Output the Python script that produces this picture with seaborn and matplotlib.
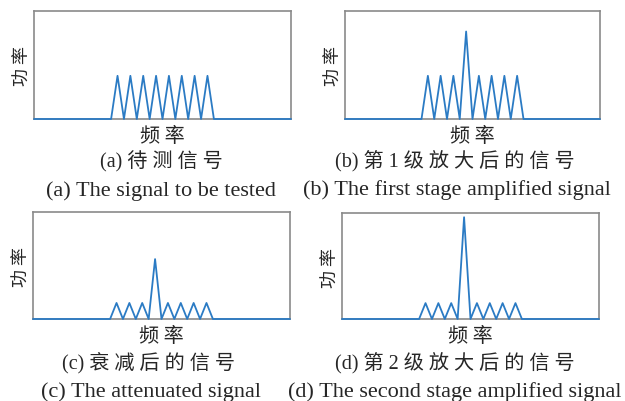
import matplotlib
matplotlib.use("Agg")
import matplotlib.pyplot as plt
import numpy as np
import pandas as pd
import seaborn as sns

sns.set_theme(style="white")
plt.rcParams["font.family"] = ["Liberation Serif", "Noto Sans CJK SC", "DejaVu Sans"]

# frequency positions (troughs at even, peaks at odd)
freq = [0, 12, 13, 14, 15, 16, 17, 18, 19, 20, 21, 22, 23, 24, 25, 26, 27, 28, 40]
power_a = [0, 0, .40, 0, .40, 0, .40, 0, .40, 0, .40, 0, .40, 0, .40, 0, .40, 0, 0]
power_b = [0, 0, .40, 0, .40, 0, .40, 0, .81, 0, .40, 0, .40, 0, .40, 0, .40, 0, 0]
power_c = [0, 0, .15, 0, .15, 0, .15, 0, .56, 0, .15, 0, .15, 0, .15, 0, .15, 0, 0]
power_d = [0, 0, .15, 0, .15, 0, .15, 0, .96, 0, .15, 0, .15, 0, .15, 0, .15, 0, 0]

cn_titles = ["(a) 待 测 信 号", "(b) 第 1 级 放 大 后 的 信 号",
             "(c) 衰 减 后 的 信 号", "(d) 第 2 级 放 大 后 的 信 号"]
en_titles = ["(a) The signal to be tested", "(b) The first stage amplified signal",
             "(c) The attenuated signal", "(d) The second stage amplified signal"]

W, H = 625, 402
fig = plt.figure(figsize=(W / 100, H / 100), dpi=100)

# axes boxes in pixels: left, right, top, bottom
boxes = [(34, 291, 12, 120), (345, 600, 12, 120), (33, 290, 213, 320), (342, 599, 214, 320)]
cn_pos = [(161, 162), (455, 162), (149, 364), (455, 364)]
en_pos = [(161, 191), (457, 190), (151, 392), (455, 392)]
blue = "#2b7bc4"

for i, power in enumerate([power_a, power_b, power_c, power_d]):
    l, r, t, b = boxes[i]
    ax = fig.add_axes([l / W, 1 - b / H, (r - l) / W, (b - t) / H])
    df = pd.DataFrame({"freq": freq, "power": power})
    sns.lineplot(data=df, x="freq", y="power", ax=ax, color=blue, lw=1.3,
                 clip_on=False, zorder=5)
    ax.set_xlim(0, 40)
    ax.set_ylim(0, 1)
    ax.set_xticks([])
    ax.set_yticks([])
    ax.set_xlabel("")
    ax.set_ylabel("")
    for s in ax.spines.values():
        s.set_color("#8a8a8a")
        s.set_linewidth(1.2)
    cx = (l + r) / 2
    fig.text(cx / W, 1 - (b + 17) / H, "频 率", ha="center", va="center", fontsize=14.5,
             family=["Noto Sans CJK SC"])
    fig.text((l - 11) / W, 1 - (t + 54) / H, "功 率", ha="center", va="center",
             fontsize=13, rotation=90, family=["Noto Sans CJK SC"])
    fig.text(cn_pos[i][0] / W, 1 - cn_pos[i][1] / H, cn_titles[i], ha="center",
             va="center", fontsize=14.5)
    fig.text(en_pos[i][0] / W, 1 - en_pos[i][1] / H, en_titles[i], ha="center",
             va="center", fontsize=16)

fig.savefig("out.png", dpi=100)
